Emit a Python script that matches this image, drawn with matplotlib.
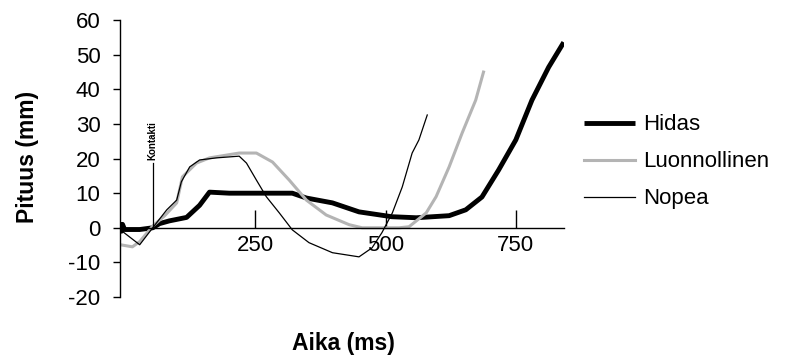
import matplotlib
matplotlib.use("Agg")
from matplotlib import pyplot as plt

# data (time in ms, length in mm)
hidas_t = [-9, -7, -5, -1, 10, 28, 53, 66, 85, 118, 143, 162, 200, 238, 277, 321, 348,
           398, 449, 512, 559, 622, 654, 685, 717, 750, 781, 813, 842]
hidas_y = [1.5, -1.0, 1.0, -0.5, -0.5, -0.5, 0.0, 1.2, 2.0, 3.0, 6.5, 10.3, 10.0, 10.0,
           10.0, 10.0, 8.6, 7.2, 4.6, 3.2, 2.9, 3.5, 5.2, 8.9, 16.7, 25.4, 36.9, 46.4, 53.6]

luonn_t = [-9, 14, 28, 47, 53, 76, 99, 110, 137, 162, 219, 252, 283, 315, 348, 386,
           430, 455, 526, 545, 578, 597, 622, 647, 673, 688]
luonn_y = [-4.9, -5.5, -4.0, -0.6, 0.5, 3.5, 7.2, 14.7, 18.7, 20.2, 21.6, 21.6, 19.0,
           13.8, 8.0, 3.7, 0.9, 0.0, 0.0, 0.3, 4.3, 9.0, 17.6, 27.4, 36.9, 45.0]

nopea_t = [-9, 28, 53, 80, 99, 108, 124, 143, 175, 219, 233, 252, 271, 296, 321, 353,
           398, 449, 474, 493, 513, 532, 551, 564, 580]
nopea_y = [-0.6, -4.9, 0.0, 5.2, 8.0, 13.3, 17.6, 19.6, 20.2, 20.7, 18.7, 13.8, 9.0,
           4.3, -0.6, -4.3, -7.2, -8.4, -5.8, -1.4, 4.3, 11.8, 21.6, 25.4, 32.6]

contact_t = 53
x_ticks = [250, 500, 750]
y_ticks = list(range(-20, 61, 10))

plt.rcParams["font.family"] = "Liberation Sans"
plt.rcParams["axes.unicode_minus"] = False

fig = plt.figure(figsize=(7.94, 3.6), dpi=100)
ax = fig.add_axes([0.151, 0.175, 0.559, 0.769])

ax.plot(hidas_t, hidas_y, color="black", lw=3.5, label="Hidas", solid_capstyle="butt")
ax.plot(luonn_t, luonn_y, color="#b4b4b4", lw=2.2, label="Luonnollinen")
ax.plot(nopea_t, nopea_y, color="black", lw=0.9, label="Nopea")

# contact marker
ax.plot([contact_t, contact_t], [0, 18.7], color="black", lw=0.9)
ax.text(contact_t, 19.5, "Kontakti", rotation=90, fontsize=7, fontweight="bold",
        ha="center", va="bottom")

ax.set_xlim(-10, 842)
ax.set_ylim(-20, 60)
ax.spines["top"].set_visible(False)
ax.spines["right"].set_visible(False)
ax.spines["bottom"].set_position(("data", 0))
for s in ("left", "bottom"):
    ax.spines[s].set_linewidth(1.0)

ax.set_xticks(x_ticks)
ax.set_yticks(y_ticks)
ax.tick_params(axis="x", direction="in", length=13, width=1.0, labelsize=16, pad=5)
ax.tick_params(axis="y", direction="out", length=5, width=1.0, labelsize=16, pad=9)

fig.text(0.035, 0.565, "Pituus (mm)", rotation=90, fontsize=16.5, fontweight="bold",
         ha="center", va="center")
fig.text(0.432, 0.045, "Aika (ms)", fontsize=16.5, fontweight="bold",
         ha="center", va="center")

ax.legend(loc="center left", bbox_to_anchor=(0.735, 0.55), bbox_transform=fig.transFigure,
          frameon=False, fontsize=16, handlelength=2.3, handletextpad=0.4,
          labelspacing=0.72, borderaxespad=0, borderpad=0)

plt.savefig("out.png", dpi=100)
